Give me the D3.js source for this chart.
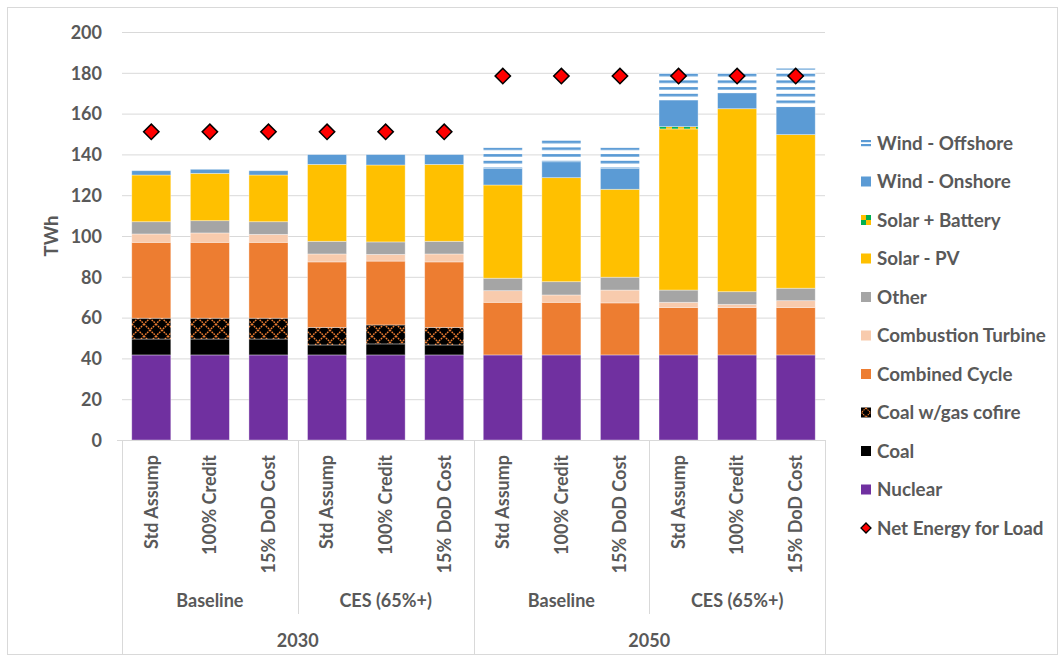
<!DOCTYPE html>
<html>
<head>
<meta charset="utf-8">
<script src="https://cdn.jsdelivr.net/npm/d3@7"></script>
<style>
  html, body { margin: 0; padding: 0; background: #fff; }
  svg { display: block; }
  text { font-family: Lato, "Open Sans", sans-serif; font-weight: 700; fill: #595959; }
</style>
</head>
<body>
<svg id="chart" width="1062" height="660"></svg>
<script>
// ---------- DATA ----------
const years = ["2030", "2050"];
const scenarios = ["Baseline", "CES (65%+)"];
const cases = ["Std Assump", "100% Credit", "15% DoD Cost"];

const nuclear      = [41.7, 41.7, 41.7, 41.7, 41.7, 41.7, 41.7, 41.7, 41.7, 41.7, 41.7, 41.7];
const coal         = [7.8, 7.8, 7.8, 4.9, 5.4, 4.9, 0, 0, 0, 0, 0, 0];
const coalCofire   = [10.2, 10.2, 10.2, 8.6, 9.3, 8.6, 0, 0, 0, 0, 0, 0];
const combinedCycle= [37.2, 37.2, 37.2, 32.1, 31.3, 32.1, 25.8, 25.8, 25.5, 23.3, 23.3, 23.3];
const combustionTurbine = [4.1, 4.6, 3.9, 3.9, 3.3, 3.9, 5.7, 3.6, 6.3, 2.5, 1.5, 3.3];
const other        = [6.0, 6.0, 6.2, 6.2, 6.1, 6.2, 6.1, 6.5, 6.3, 6.0, 6.2, 6.1];
const solarPV      = [22.9, 23.2, 22.9, 37.7, 37.7, 37.7, 45.7, 51.0, 43.1, 79.0, 89.7, 75.3];
const solarBattery = [0, 0, 0, 0, 0, 0, 0, 0, 0, 1.1, 0, 0];
const windOnshore  = [2.1, 2.0, 2.1, 4.8, 5.1, 4.8, 8.2, 7.8, 10.3, 13.1, 7.8, 13.7];
const windOffshore = [0, 0, 0, 0, 0, 0, 10.1, 12.0, 10.1, 13.3, 9.8, 18.8];
const netEnergy    = [151.1, 151.1, 151.1, 151.1, 151.1, 151.1, 178.4, 178.4, 178.4, 178.4, 178.4, 178.4];

const yTicks = [0, 20, 40, 60, 80, 100, 120, 140, 160, 180, 200];

// ---------- BUILD ----------
const categories = [];
years.forEach(y => scenarios.forEach(s => cases.forEach(c => categories.push({year: y, scen: s, cas: c, id: y + "|" + s + "|" + c}))));

const seriesDefs = [
  {key: "Nuclear", vals: nuclear, fill: "#7030a0"},
  {key: "Coal", vals: coal, fill: "#000000"},
  {key: "Coal w/gas cofire", vals: coalCofire, fill: "url(#pCofire)"},
  {key: "Combined Cycle", vals: combinedCycle, fill: "#ed7d31"},
  {key: "Combustion Turbine", vals: combustionTurbine, fill: "#f8cbad"},
  {key: "Other", vals: other, fill: "#a5a5a5"},
  {key: "Solar - PV", vals: solarPV, fill: "#ffc000"},
  {key: "Solar + Battery", vals: solarBattery, fill: "url(#pSolarBat)"},
  {key: "Wind - Onshore", vals: windOnshore, fill: "#5b9bd5"},
  {key: "Wind - Offshore", vals: windOffshore, fill: "url(#pOffshore)"}
];

const table = categories.map((c, i) => {
  const row = {id: c.id};
  seriesDefs.forEach(s => row[s.key] = s.vals[i]);
  return row;
});
const stack = d3.stack().keys(seriesDefs.map(s => s.key))(table);

const svg = d3.select("#chart");

// chart border
svg.append("rect").attr("x", 7.5).attr("y", 7.5).attr("width", 1050).attr("height", 647)
  .attr("fill", "#fff").attr("stroke", "#d9d9d9").attr("stroke-width", 1);

// patterns
const defs = svg.append("defs");
const pc = defs.append("pattern").attr("id", "pCofire").attr("patternUnits", "userSpaceOnUse")
  .attr("width", 12).attr("height", 12);
pc.append("rect").attr("width", 12).attr("height", 12).attr("fill", "#000");
pc.append("path").attr("d", "M0,0 L12,12 M12,0 L0,12")
  .attr("stroke", "#ed7d31").attr("stroke-width", 1.4).attr("stroke-dasharray", "1.8,0.9");

const ps = defs.append("pattern").attr("id", "pSolarBat").attr("patternUnits", "userSpaceOnUse")
  .attr("width", 12).attr("height", 12);
ps.append("rect").attr("width", 12).attr("height", 12).attr("fill", "#ffc000");
ps.append("rect").attr("x", 6).attr("y", 0).attr("width", 6).attr("height", 6).attr("fill", "#00b050");
ps.append("rect").attr("x", 0).attr("y", 6).attr("width", 6).attr("height", 6).attr("fill", "#00b050");

const po = defs.append("pattern").attr("id", "pOffshore").attr("patternUnits", "userSpaceOnUse")
  .attr("width", 10).attr("height", 6.7);
po.append("rect").attr("width", 10).attr("height", 6.7).attr("fill", "#fff");
po.append("rect").attr("y", 0).attr("width", 10).attr("height", 2.6).attr("fill", "#5b9bd5");

// scales
const plotL = 122, plotR = 825, plotT = 32, plotB = 440;
const x = d3.scaleBand().domain(categories.map(c => c.id)).range([plotL, plotR]).paddingInner(1/3).paddingOuter(1/6);
const xb = d3.scaleBand().domain(categories.map(c => c.id)).range([plotL, plotR]).padding(0);
const y = d3.scaleLinear().domain([0, 200]).range([plotB, plotT]);

// gridlines
svg.append("g").selectAll("line").data(yTicks.filter(t => t > 0)).join("line")
  .attr("x1", plotL).attr("x2", plotR).attr("y1", d => y(d) + 0.5).attr("y2", d => y(d) + 0.5)
  .attr("stroke", "#d9d9d9").attr("stroke-width", 1);

// y axis labels
const yAxis = d3.axisLeft(y).tickValues(yTicks).tickSize(0).tickPadding(0);
const gy = svg.append("g").attr("transform", `translate(102,0)`).call(yAxis);
gy.select(".domain").remove();
gy.selectAll("text").attr("font-size", 18).attr("fill", "#595959").attr("font-family", "Lato, sans-serif").attr("font-weight", 700).attr("dy", "0.35em");

svg.append("text").attr("transform", `translate(58,${(plotT + plotB) / 2}) rotate(-90)`)
  .attr("text-anchor", "middle").attr("font-size", 18.5).text("TWh");

// bars
const gBars = svg.append("g");
stack.forEach((layer, li) => {
  gBars.append("g").selectAll("rect").data(layer).join("rect")
    .attr("x", (d, i) => x(categories[i].id))
    .attr("width", x.bandwidth())
    .attr("y", d => y(d[1]))
    .attr("height", d => Math.max(0, y(d[0]) - y(d[1])))
    .attr("fill", seriesDefs[li].fill)
    .attr("stroke", "#ffffff").attr("stroke-opacity", 0.45).attr("stroke-width", 0.8);
});

// net energy markers
const diamond = d3.symbol().type(d3.symbolSquare).size(118);
svg.append("g").selectAll("path").data(netEnergy).join("path")
  .attr("d", diamond)
  .attr("transform", (d, i) => `translate(${x(categories[i].id) + x.bandwidth() / 2},${y(d)}) rotate(45)`)
  .attr("fill", "#ff0000").attr("stroke", "#000").attr("stroke-width", 1.5);

// category axis
const gx = svg.append("g");
gx.append("line").attr("x1", plotL - 5).attr("x2", plotR).attr("y1", plotB + 0.5).attr("y2", plotB + 0.5).attr("stroke", "#d9d9d9");
const sepScen = [3, 9];
const sepYear = [0, 6, 12];
sepYear.forEach(i => {
  const xx = i < 12 ? xb(categories[i].id) : plotR;
  gx.append("line").attr("x1", Math.round(xx) + 0.5).attr("x2", Math.round(xx) + 0.5).attr("y1", plotB).attr("y2", 654).attr("stroke", "#d9d9d9");
});
sepScen.forEach(i => {
  const xx = xb(categories[i].id);
  gx.append("line").attr("x1", Math.round(xx) + 0.5).attr("x2", Math.round(xx) + 0.5).attr("y1", plotB).attr("y2", 614).attr("stroke", "#d9d9d9");
});
gx.selectAll("text.case").data(categories).join("text").attr("class", "case")
  .attr("transform", d => `translate(${xb(d.id) + xb.bandwidth() / 2},455) rotate(-90)`)
  .attr("text-anchor", "end").attr("dy", "0.35em").attr("font-size", 18).text(d => d.cas);
const scenGroups = [];
years.forEach((yv, yi) => scenarios.forEach((s, si) => scenGroups.push({label: s, start: (yi * 2 + si) * 3})));
gx.selectAll("text.scen").data(scenGroups).join("text").attr("class", "scen")
  .attr("x", d => (xb(categories[d.start].id) + xb(categories[d.start + 2].id) + xb.bandwidth()) / 2)
  .attr("y", 607).attr("text-anchor", "middle").attr("font-size", 18).text(d => d.label);
gx.selectAll("text.year").data(years).join("text").attr("class", "year")
  .attr("x", (d, i) => (xb(categories[i * 6].id) + xb(categories[i * 6 + 5].id) + xb.bandwidth()) / 2)
  .attr("y", 647).attr("text-anchor", "middle").attr("font-size", 18).text(d => d);

// legend
const legendItems = [
  {label: "Wind - Offshore", type: "offshore"},
  {label: "Wind - Onshore", fill: "#5b9bd5"},
  {label: "Solar + Battery", type: "solarbat"},
  {label: "Solar - PV", fill: "#ffc000"},
  {label: "Other", fill: "#a5a5a5"},
  {label: "Combustion Turbine", fill: "#f8cbad"},
  {label: "Combined Cycle", fill: "#ed7d31"},
  {label: "Coal w/gas cofire", type: "cofire"},
  {label: "Coal", fill: "#000000"},
  {label: "Nuclear", fill: "#7030a0"},
  {label: "Net Energy for Load", type: "diamond"}
];
const lg = svg.append("g");
legendItems.forEach((it, i) => {
  const cy = 143 + i * 38.5;
  const g = lg.append("g").attr("transform", `translate(861,${cy})`);
  if (it.type === "offshore") {
    g.append("rect").attr("x", 0).attr("y", -3).attr("width", 10).attr("height", 2.2).attr("fill", "#5b9bd5");
    g.append("rect").attr("x", 0).attr("y", 1).attr("width", 10).attr("height", 2.2).attr("fill", "#5b9bd5");
  } else if (it.type === "solarbat") {
    g.append("rect").attr("x", 0).attr("y", -5).attr("width", 10).attr("height", 10).attr("fill", "#ffc000");
    g.append("rect").attr("x", 5).attr("y", -5).attr("width", 5).attr("height", 5).attr("fill", "#00b050");
    g.append("rect").attr("x", 0).attr("y", 0).attr("width", 5).attr("height", 5).attr("fill", "#00b050");
  } else if (it.type === "cofire") {
    g.append("rect").attr("x", 0).attr("y", -5).attr("width", 10).attr("height", 10).attr("fill", "#000");
    g.append("path").attr("d", "M5,-4.5 L9.5,0 L5,4.5 L0.5,0 Z").attr("fill", "none").attr("stroke", "#ed7d31").attr("stroke-width", 1.1).attr("stroke-dasharray", "1.4,0.8");
  } else if (it.type === "diamond") {
    g.append("path").attr("d", d3.symbol().type(d3.symbolSquare).size(50)).attr("transform", "translate(5,0) rotate(45)")
      .attr("fill", "#ff0000").attr("stroke", "#000").attr("stroke-width", 1.3);
  } else {
    g.append("rect").attr("x", 0).attr("y", -5).attr("width", 10).attr("height", 10).attr("fill", it.fill);
  }
  g.append("text").attr("x", 16).attr("y", 0).attr("dy", "0.35em").attr("font-size", 18.8).text(it.label);
});
</script>
</body>
</html>
